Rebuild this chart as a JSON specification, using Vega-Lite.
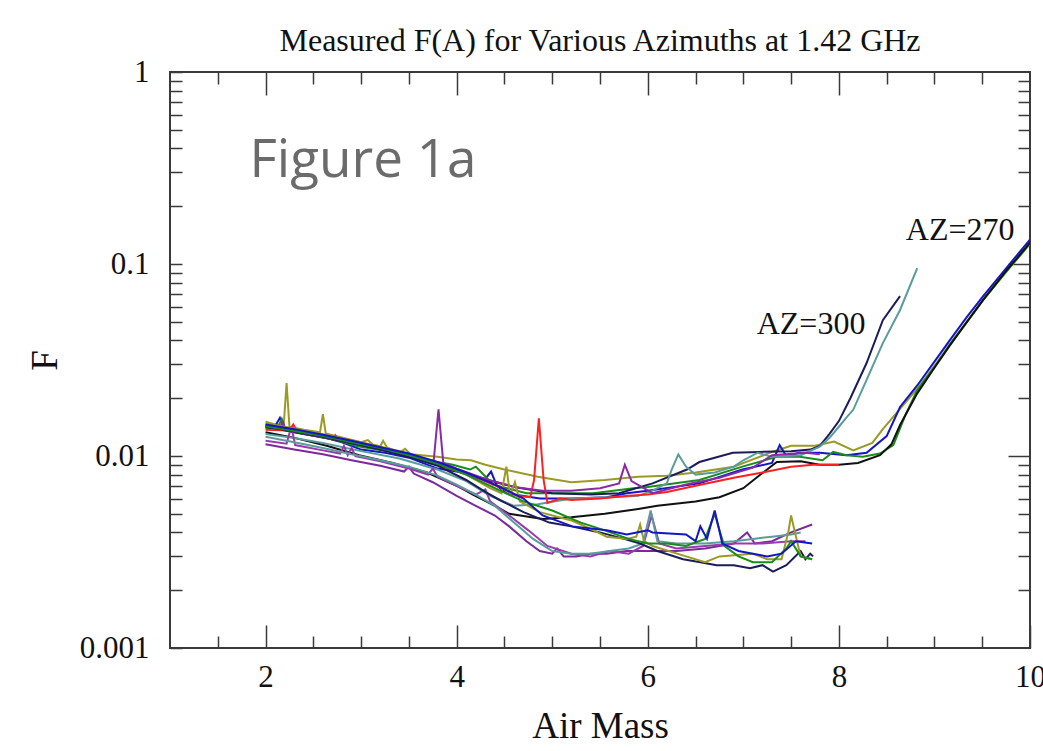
{
"$schema":"https://vega.github.io/schema/vega-lite/v6.json",
"width":860,"height":576,
"autosize":{"type":"none"},
"padding":{"left":170,"top":72,"right":13,"bottom":103},
"background":"white",
"config":{"view":{"stroke":"#3a3a3a","strokeWidth":2},"axis":{"domain":false,"grid":false,"tickColor":"#3a3a3a","tickWidth":1.5,"labelColor":"#111111","titleColor":"#111111","labelFont":"Liberation Serif","titleFont":"Liberation Serif","titleFontWeight":"normal"}},
"title":{"text":"Measured F(A) for Various Azimuths at 1.42 GHz","font":"Liberation Serif","fontSize":32,"fontWeight":"normal","color":"#111111","frame":"group","anchor":"middle","offset":-2},
"resolve":{"axis":{"x":"independent","y":"independent"}},
"layer":[
{
"data":{"values":[
{"s":"Uo","x":2.0,"y":0.0151},{"s":"Uo","x":2.1,"y":0.0146},{"s":"Uo","x":2.19,"y":0.0144},{"s":"Uo","x":2.22,"y":0.024},{"s":"Uo","x":2.25,"y":0.0142},{"s":"Uo","x":2.4,"y":0.0137},{"s":"Uo","x":2.57,"y":0.0133},{"s":"Uo","x":2.6,"y":0.0165},{"s":"Uo","x":2.63,"y":0.0131},{"s":"Uo","x":2.8,"y":0.0125},{"s":"Uo","x":3.0,"y":0.0118},{"s":"Uo","x":3.07,"y":0.0121},{"s":"Uo","x":3.12,"y":0.0115},{"s":"Uo","x":3.2,"y":0.0112},{"s":"Uo","x":3.23,"y":0.012},{"s":"Uo","x":3.27,"y":0.0111},{"s":"Uo","x":3.4,"y":0.0104},{"s":"Uo","x":3.46,"y":0.0109},{"s":"Uo","x":3.52,"y":0.0102},{"s":"Uo","x":3.8,"y":0.0099},{"s":"Uo","x":4.0,"y":0.0096},{"s":"Uo","x":4.15,"y":0.0095},{"s":"Uo","x":4.3,"y":0.009},{"s":"Uo","x":4.5,"y":0.0085},{"s":"Uo","x":4.85,"y":0.0078},{"s":"Uo","x":5.2,"y":0.0073},{"s":"Uo","x":5.55,"y":0.0075},{"s":"Uo","x":5.9,"y":0.0078},{"s":"Uo","x":6.2,"y":0.0079},{"s":"Uo","x":6.5,"y":0.0082},{"s":"Uo","x":6.9,"y":0.0088},{"s":"Uo","x":7.1,"y":0.0096},{"s":"Uo","x":7.3,"y":0.0105},{"s":"Uo","x":7.5,"y":0.0113},{"s":"Uo","x":7.75,"y":0.0113},{"s":"Uo","x":7.95,"y":0.0119},{"s":"Uo","x":8.15,"y":0.0107},{"s":"Uo","x":8.35,"y":0.0117},{"s":"Uo","x":8.46,"y":0.0138},{"s":"Uo","x":8.64,"y":0.0176},{"s":"Uo","x":8.82,"y":0.0224},{"s":"Uo","x":9.0,"y":0.0295},{"s":"Uo","x":9.16,"y":0.038},{"s":"Uo","x":9.34,"y":0.05},{"s":"Uo","x":9.51,"y":0.065},{"s":"Uo","x":9.75,"y":0.091},{"s":"Uo","x":10.0,"y":0.127},
{"s":"Ub","x":2.0,"y":0.0145},{"s":"Ub","x":2.1,"y":0.0143},{"s":"Ub","x":2.15,"y":0.0158},{"s":"Ub","x":2.19,"y":0.0139},{"s":"Ub","x":2.4,"y":0.0132},{"s":"Ub","x":2.6,"y":0.0126},{"s":"Ub","x":2.8,"y":0.0118},{"s":"Ub","x":3.0,"y":0.0108},{"s":"Ub","x":3.25,"y":0.0104},{"s":"Ub","x":3.5,"y":0.0098},{"s":"Ub","x":3.8,"y":0.0086},{"s":"Ub","x":4.0,"y":0.0083},{"s":"Ub","x":4.14,"y":0.008},{"s":"Ub","x":4.3,"y":0.0076},{"s":"Ub","x":4.36,"y":0.0083},{"s":"Ub","x":4.42,"y":0.007},{"s":"Ub","x":4.52,"y":0.0064},{"s":"Ub","x":4.87,"y":0.006},{"s":"Ub","x":5.21,"y":0.006},{"s":"Ub","x":5.57,"y":0.0061},{"s":"Ub","x":5.78,"y":0.0064},{"s":"Ub","x":6.0,"y":0.0066},{"s":"Ub","x":6.54,"y":0.0072},{"s":"Ub","x":6.99,"y":0.0085},{"s":"Ub","x":7.3,"y":0.0092},{"s":"Ub","x":7.38,"y":0.0114},{"s":"Ub","x":7.45,"y":0.01},{"s":"Ub","x":7.59,"y":0.0104},{"s":"Ub","x":7.8,"y":0.0104},{"s":"Ub","x":8.08,"y":0.0101},{"s":"Ub","x":8.29,"y":0.0104},{"s":"Ub","x":8.5,"y":0.0127},{"s":"Ub","x":8.64,"y":0.018},{"s":"Ub","x":8.82,"y":0.0233},{"s":"Ub","x":9.0,"y":0.031},{"s":"Ub","x":9.16,"y":0.04},{"s":"Ub","x":9.34,"y":0.053},{"s":"Ub","x":9.51,"y":0.068},{"s":"Ub","x":9.75,"y":0.095},{"s":"Ub","x":10.0,"y":0.134},
{"s":"Ug","x":2.0,"y":0.014},{"s":"Ug","x":2.12,"y":0.0138},{"s":"Ug","x":2.17,"y":0.0156},{"s":"Ug","x":2.21,"y":0.0136},{"s":"Ug","x":2.4,"y":0.013},{"s":"Ug","x":2.64,"y":0.0124},{"s":"Ug","x":2.98,"y":0.0112},{"s":"Ug","x":3.33,"y":0.0105},{"s":"Ug","x":3.69,"y":0.0095},{"s":"Ug","x":3.96,"y":0.009},{"s":"Ug","x":4.14,"y":0.0085},{"s":"Ug","x":4.2,"y":0.0088},{"s":"Ug","x":4.26,"y":0.0082},{"s":"Ug","x":4.38,"y":0.0071},{"s":"Ug","x":4.73,"y":0.0064},{"s":"Ug","x":5.08,"y":0.0064},{"s":"Ug","x":5.43,"y":0.0064},{"s":"Ug","x":5.85,"y":0.0068},{"s":"Ug","x":6.0,"y":0.0069},{"s":"Ug","x":6.54,"y":0.0075},{"s":"Ug","x":6.99,"y":0.0088},{"s":"Ug","x":7.35,"y":0.0099},{"s":"Ug","x":7.59,"y":0.0099},{"s":"Ug","x":7.83,"y":0.0095},{"s":"Ug","x":7.94,"y":0.0105},{"s":"Ug","x":8.08,"y":0.0101},{"s":"Ug","x":8.25,"y":0.0099},{"s":"Ug","x":8.43,"y":0.0103},{"s":"Ug","x":8.57,"y":0.0114},{"s":"Ug","x":8.7,"y":0.0165},{"s":"Ug","x":8.82,"y":0.022},{"s":"Ug","x":9.0,"y":0.029},{"s":"Ug","x":9.16,"y":0.038},{"s":"Ug","x":9.34,"y":0.05},{"s":"Ug","x":9.51,"y":0.065},{"s":"Ug","x":9.75,"y":0.091},{"s":"Ug","x":10.0,"y":0.128},
{"s":"Uk","x":2.0,"y":0.0133},{"s":"Uk","x":2.28,"y":0.0125},{"s":"Uk","x":2.64,"y":0.0113},{"s":"Uk","x":2.98,"y":0.0101},{"s":"Uk","x":3.33,"y":0.0092},{"s":"Uk","x":3.69,"y":0.0082},{"s":"Uk","x":4.0,"y":0.007},{"s":"Uk","x":4.17,"y":0.0063},{"s":"Uk","x":4.4,"y":0.0055},{"s":"Uk","x":4.55,"y":0.005},{"s":"Uk","x":4.9,"y":0.0047},{"s":"Uk","x":5.2,"y":0.0048},{"s":"Uk","x":5.55,"y":0.005},{"s":"Uk","x":5.9,"y":0.0053},{"s":"Uk","x":6.1,"y":0.0055},{"s":"Uk","x":6.5,"y":0.0058},{"s":"Uk","x":6.75,"y":0.0061},{"s":"Uk","x":7.0,"y":0.0068},{"s":"Uk","x":7.15,"y":0.0078},{"s":"Uk","x":7.35,"y":0.0093},{"s":"Uk","x":7.6,"y":0.0094},{"s":"Uk","x":7.8,"y":0.009},{"s":"Uk","x":8.0,"y":0.009},{"s":"Uk","x":8.2,"y":0.0092},{"s":"Uk","x":8.43,"y":0.0101},{"s":"Uk","x":8.55,"y":0.0115},{"s":"Uk","x":8.64,"y":0.0145},{"s":"Uk","x":8.82,"y":0.0212},{"s":"Uk","x":9.0,"y":0.0288},{"s":"Uk","x":9.16,"y":0.0376},{"s":"Uk","x":9.34,"y":0.05},{"s":"Uk","x":9.51,"y":0.065},{"s":"Uk","x":9.75,"y":0.092},{"s":"Uk","x":10.0,"y":0.129},
{"s":"Un","x":2.0,"y":0.0142},{"s":"Un","x":2.3,"y":0.0133},{"s":"Un","x":2.6,"y":0.0125},{"s":"Un","x":3.0,"y":0.0114},{"s":"Un","x":3.4,"y":0.0103},{"s":"Un","x":3.8,"y":0.009},{"s":"Un","x":4.2,"y":0.0078},{"s":"Un","x":4.6,"y":0.0069},{"s":"Un","x":5.0,"y":0.0064},{"s":"Un","x":5.4,"y":0.0063},{"s":"Un","x":5.7,"y":0.0064},{"s":"Un","x":6.05,"y":0.0072},{"s":"Un","x":6.41,"y":0.0085},{"s":"Un","x":6.54,"y":0.0093},{"s":"Un","x":6.89,"y":0.0104},{"s":"Un","x":7.17,"y":0.0105},{"s":"Un","x":7.5,"y":0.0106},{"s":"Un","x":7.7,"y":0.0108},{"s":"Un","x":7.8,"y":0.0113},{"s":"Un","x":7.9,"y":0.013},{"s":"Un","x":8.0,"y":0.0152},{"s":"Un","x":8.12,"y":0.02},{"s":"Un","x":8.29,"y":0.0305},{"s":"Un","x":8.46,"y":0.051},{"s":"Un","x":8.64,"y":0.068},
{"s":"Ut","x":2.0,"y":0.013},{"s":"Ut","x":2.3,"y":0.0124},{"s":"Ut","x":2.6,"y":0.0117},{"s":"Ut","x":3.0,"y":0.0106},{"s":"Ut","x":3.4,"y":0.0097},{"s":"Ut","x":3.8,"y":0.0085},{"s":"Ut","x":4.1,"y":0.0074},{"s":"Ut","x":4.35,"y":0.0062},{"s":"Ut","x":4.6,"y":0.0055},{"s":"Ut","x":4.85,"y":0.0056},{"s":"Ut","x":5.2,"y":0.006},{"s":"Ut","x":5.6,"y":0.0061},{"s":"Ut","x":5.9,"y":0.0062},{"s":"Ut","x":6.05,"y":0.0066},{"s":"Ut","x":6.2,"y":0.0072},{"s":"Ut","x":6.25,"y":0.0085},{"s":"Ut","x":6.32,"y":0.0102},{"s":"Ut","x":6.4,"y":0.0088},{"s":"Ut","x":6.5,"y":0.008},{"s":"Ut","x":6.7,"y":0.0082},{"s":"Ut","x":6.9,"y":0.0088},{"s":"Ut","x":7.0,"y":0.0095},{"s":"Ut","x":7.15,"y":0.0104},{"s":"Ut","x":7.3,"y":0.0099},{"s":"Ut","x":7.6,"y":0.0101},{"s":"Ut","x":7.8,"y":0.0112},{"s":"Ut","x":7.9,"y":0.0124},{"s":"Ut","x":8.0,"y":0.0142},{"s":"Ut","x":8.08,"y":0.0159},{"s":"Ut","x":8.15,"y":0.0174},{"s":"Ut","x":8.29,"y":0.0249},{"s":"Ut","x":8.46,"y":0.0387},{"s":"Ut","x":8.64,"y":0.0576},{"s":"Ut","x":8.82,"y":0.0953},
{"s":"Ur","x":2.0,"y":0.0137},{"s":"Ur","x":2.25,"y":0.0136},{"s":"Ur","x":2.29,"y":0.0146},{"s":"Ur","x":2.33,"y":0.0134},{"s":"Ur","x":2.5,"y":0.013},{"s":"Ur","x":2.7,"y":0.0122},{"s":"Ur","x":2.73,"y":0.0128},{"s":"Ur","x":2.76,"y":0.0121},{"s":"Ur","x":3.0,"y":0.0116},{"s":"Ur","x":3.23,"y":0.0108},{"s":"Ur","x":3.58,"y":0.0099},{"s":"Ur","x":3.93,"y":0.0086},{"s":"Ur","x":4.27,"y":0.0075},{"s":"Ur","x":4.5,"y":0.0067},{"s":"Ur","x":4.63,"y":0.0062},{"s":"Ur","x":4.77,"y":0.0061},{"s":"Ur","x":4.81,"y":0.0075},{"s":"Ur","x":4.86,"y":0.0157},{"s":"Ur","x":4.91,"y":0.0075},{"s":"Ur","x":4.95,"y":0.0057},{"s":"Ur","x":5.08,"y":0.006},{"s":"Ur","x":5.2,"y":0.0059},{"s":"Ur","x":5.5,"y":0.006},{"s":"Ur","x":5.8,"y":0.0062},{"s":"Ur","x":6.0,"y":0.0063},{"s":"Ur","x":6.2,"y":0.0065},{"s":"Ur","x":6.5,"y":0.007},{"s":"Ur","x":6.9,"y":0.0077},{"s":"Ur","x":7.2,"y":0.0082},{"s":"Ur","x":7.5,"y":0.0088},{"s":"Ur","x":7.73,"y":0.009},{"s":"Ur","x":8.0,"y":0.009},
{"s":"Up","x":2.0,"y":0.0143},{"s":"Up","x":2.15,"y":0.0139},{"s":"Up","x":2.18,"y":0.015},{"s":"Up","x":2.21,"y":0.0137},{"s":"Up","x":2.5,"y":0.0128},{"s":"Up","x":2.8,"y":0.012},{"s":"Up","x":3.1,"y":0.0112},{"s":"Up","x":3.4,"y":0.0104},{"s":"Up","x":3.7,"y":0.0094},{"s":"Up","x":3.76,"y":0.0095},{"s":"Up","x":3.81,"y":0.0175},{"s":"Up","x":3.86,"y":0.0092},{"s":"Up","x":4.0,"y":0.0086},{"s":"Up","x":4.3,"y":0.0076},{"s":"Up","x":4.6,"y":0.0069},{"s":"Up","x":4.9,"y":0.0066},{"s":"Up","x":5.2,"y":0.0066},{"s":"Up","x":5.5,"y":0.0068},{"s":"Up","x":5.7,"y":0.0072},{"s":"Up","x":5.76,"y":0.009},{"s":"Up","x":5.83,"y":0.0074},{"s":"Up","x":6.05,"y":0.0064},{"s":"Up","x":6.4,"y":0.0071},{"s":"Up","x":6.75,"y":0.0077},{"s":"Up","x":7.1,"y":0.0087},{"s":"Up","x":7.3,"y":0.0101},{"s":"Up","x":7.65,"y":0.0104},{"s":"Up","x":7.8,"y":0.0102},
{"s":"Lp1","x":2.0,"y":0.0115},{"s":"Lp1","x":2.3,"y":0.0108},{"s":"Lp1","x":2.6,"y":0.0102},{"s":"Lp1","x":2.9,"y":0.0095},{"s":"Lp1","x":3.2,"y":0.0089},{"s":"Lp1","x":3.45,"y":0.0083},{"s":"Lp1","x":3.5,"y":0.0088},{"s":"Lp1","x":3.55,"y":0.0081},{"s":"Lp1","x":3.75,"y":0.0073},{"s":"Lp1","x":4.0,"y":0.0062},{"s":"Lp1","x":4.2,"y":0.0055},{"s":"Lp1","x":4.4,"y":0.0049},{"s":"Lp1","x":4.55,"y":0.0043},{"s":"Lp1","x":4.73,"y":0.0036},{"s":"Lp1","x":4.87,"y":0.0032},{"s":"Lp1","x":5.0,"y":0.0031},{"s":"Lp1","x":5.05,"y":0.0033},{"s":"Lp1","x":5.12,"y":0.003},{"s":"Lp1","x":5.25,"y":0.003},{"s":"Lp1","x":5.4,"y":0.0031},{"s":"Lp1","x":5.57,"y":0.0031},{"s":"Lp1","x":5.78,"y":0.0032},{"s":"Lp1","x":6.0,"y":0.0032},{"s":"Lp1","x":6.3,"y":0.0032},{"s":"Lp1","x":6.6,"y":0.0033},{"s":"Lp1","x":6.9,"y":0.0035},{"s":"Lp1","x":7.04,"y":0.004},{"s":"Lp1","x":7.12,"y":0.0035},{"s":"Lp1","x":7.3,"y":0.0036},{"s":"Lp1","x":7.5,"y":0.004},{"s":"Lp1","x":7.72,"y":0.0044},
{"s":"Lp2","x":2.0,"y":0.012},{"s":"Lp2","x":2.22,"y":0.0116},{"s":"Lp2","x":2.27,"y":0.0142},{"s":"Lp2","x":2.31,"y":0.0114},{"s":"Lp2","x":2.6,"y":0.0107},{"s":"Lp2","x":2.78,"y":0.0103},{"s":"Lp2","x":2.82,"y":0.0113},{"s":"Lp2","x":2.86,"y":0.0101},{"s":"Lp2","x":2.9,"y":0.011},{"s":"Lp2","x":2.94,"y":0.01},{"s":"Lp2","x":3.2,"y":0.0094},{"s":"Lp2","x":3.5,"y":0.0086},{"s":"Lp2","x":3.7,"y":0.008},{"s":"Lp2","x":3.75,"y":0.0086},{"s":"Lp2","x":3.8,"y":0.0078},{"s":"Lp2","x":4.0,"y":0.007},{"s":"Lp2","x":4.2,"y":0.0063},{"s":"Lp2","x":4.3,"y":0.0067},{"s":"Lp2","x":4.35,"y":0.0058},{"s":"Lp2","x":4.55,"y":0.0049},{"s":"Lp2","x":4.75,"y":0.0041},{"s":"Lp2","x":4.95,"y":0.0034},{"s":"Lp2","x":5.2,"y":0.0031},{"s":"Lp2","x":5.4,"y":0.003},{"s":"Lp2","x":5.6,"y":0.0032},{"s":"Lp2","x":5.8,"y":0.0031},{"s":"Lp2","x":5.95,"y":0.0034},{"s":"Lp2","x":6.04,"y":0.0049},{"s":"Lp2","x":6.12,"y":0.0035},{"s":"Lp2","x":6.3,"y":0.0033},{"s":"Lp2","x":6.6,"y":0.0034},{"s":"Lp2","x":6.9,"y":0.0035},{"s":"Lp2","x":7.2,"y":0.0035},{"s":"Lp2","x":7.5,"y":0.0036},{"s":"Lp2","x":7.65,"y":0.0036},
{"s":"Lt","x":2.0,"y":0.0126},{"s":"Lt","x":2.3,"y":0.0118},{"s":"Lt","x":2.6,"y":0.011},{"s":"Lt","x":2.9,"y":0.0102},{"s":"Lt","x":3.2,"y":0.0095},{"s":"Lt","x":3.5,"y":0.0088},{"s":"Lt","x":3.8,"y":0.0079},{"s":"Lt","x":4.0,"y":0.0071},{"s":"Lt","x":4.2,"y":0.0063},{"s":"Lt","x":4.4,"y":0.0055},{"s":"Lt","x":4.6,"y":0.0045},{"s":"Lt","x":4.8,"y":0.0037},{"s":"Lt","x":5.0,"y":0.0032},{"s":"Lt","x":5.2,"y":0.0031},{"s":"Lt","x":5.4,"y":0.0031},{"s":"Lt","x":5.6,"y":0.0032},{"s":"Lt","x":5.8,"y":0.0033},{"s":"Lt","x":5.95,"y":0.0035},{"s":"Lt","x":6.03,"y":0.0052},{"s":"Lt","x":6.1,"y":0.0036},{"s":"Lt","x":6.3,"y":0.0035},{"s":"Lt","x":6.6,"y":0.0035},{"s":"Lt","x":6.9,"y":0.0036},{"s":"Lt","x":7.1,"y":0.0037},{"s":"Lt","x":7.3,"y":0.0038},{"s":"Lt","x":7.5,"y":0.0039},{"s":"Lt","x":7.6,"y":0.004},
{"s":"Ln","x":2.0,"y":0.0142},{"s":"Ln","x":2.3,"y":0.0134},{"s":"Ln","x":2.6,"y":0.0126},{"s":"Ln","x":2.9,"y":0.0117},{"s":"Ln","x":3.2,"y":0.0108},{"s":"Ln","x":3.5,"y":0.0099},{"s":"Ln","x":3.8,"y":0.0089},{"s":"Ln","x":4.1,"y":0.0075},{"s":"Ln","x":4.3,"y":0.0065},{"s":"Ln","x":4.45,"y":0.0059},{"s":"Ln","x":4.7,"y":0.0051},{"s":"Ln","x":4.97,"y":0.0045},{"s":"Ln","x":5.2,"y":0.0043},{"s":"Ln","x":5.5,"y":0.004},{"s":"Ln","x":5.75,"y":0.0037},{"s":"Ln","x":5.92,"y":0.0035},{"s":"Ln","x":6.1,"y":0.0032},{"s":"Ln","x":6.37,"y":0.0029},{"s":"Ln","x":6.55,"y":0.0028},{"s":"Ln","x":6.72,"y":0.0027},{"s":"Ln","x":6.9,"y":0.0027},{"s":"Ln","x":7.07,"y":0.0026},{"s":"Ln","x":7.2,"y":0.0027},{"s":"Ln","x":7.31,"y":0.0025},{"s":"Ln","x":7.45,"y":0.0027},{"s":"Ln","x":7.6,"y":0.0032},{"s":"Ln","x":7.65,"y":0.0029},{"s":"Ln","x":7.7,"y":0.0031},{"s":"Ln","x":7.73,"y":0.003},
{"s":"Lo","x":2.0,"y":0.0148},{"s":"Lo","x":2.3,"y":0.0139},{"s":"Lo","x":2.6,"y":0.013},{"s":"Lo","x":2.9,"y":0.0121},{"s":"Lo","x":3.2,"y":0.0112},{"s":"Lo","x":3.5,"y":0.0103},{"s":"Lo","x":3.8,"y":0.0092},{"s":"Lo","x":4.1,"y":0.008},{"s":"Lo","x":4.35,"y":0.0068},{"s":"Lo","x":4.47,"y":0.0064},{"s":"Lo","x":4.52,"y":0.0088},{"s":"Lo","x":4.56,"y":0.0062},{"s":"Lo","x":4.61,"y":0.0073},{"s":"Lo","x":4.66,"y":0.0058},{"s":"Lo","x":4.87,"y":0.0051},{"s":"Lo","x":5.21,"y":0.0046},{"s":"Lo","x":5.39,"y":0.0042},{"s":"Lo","x":5.57,"y":0.0038},{"s":"Lo","x":5.78,"y":0.0037},{"s":"Lo","x":5.88,"y":0.0038},{"s":"Lo","x":5.92,"y":0.0044},{"s":"Lo","x":5.96,"y":0.0036},{"s":"Lo","x":6.05,"y":0.0034},{"s":"Lo","x":6.4,"y":0.003},{"s":"Lo","x":6.6,"y":0.0028},{"s":"Lo","x":6.75,"y":0.003},{"s":"Lo","x":7.1,"y":0.0031},{"s":"Lo","x":7.25,"y":0.0029},{"s":"Lo","x":7.4,"y":0.0029},{"s":"Lo","x":7.47,"y":0.004},{"s":"Lo","x":7.5,"y":0.0049},{"s":"Lo","x":7.54,"y":0.004},{"s":"Lo","x":7.6,"y":0.003},{"s":"Lo","x":7.72,"y":0.0029},
{"s":"Lg","x":2.0,"y":0.0143},{"s":"Lg","x":2.3,"y":0.0135},{"s":"Lg","x":2.6,"y":0.0127},{"s":"Lg","x":2.9,"y":0.0118},{"s":"Lg","x":3.2,"y":0.011},{"s":"Lg","x":3.5,"y":0.0101},{"s":"Lg","x":3.8,"y":0.0091},{"s":"Lg","x":4.1,"y":0.008},{"s":"Lg","x":4.4,"y":0.0068},{"s":"Lg","x":4.7,"y":0.0058},{"s":"Lg","x":5.0,"y":0.0052},{"s":"Lg","x":5.3,"y":0.0045},{"s":"Lg","x":5.55,"y":0.0041},{"s":"Lg","x":5.8,"y":0.0037},{"s":"Lg","x":6.0,"y":0.0035},{"s":"Lg","x":6.2,"y":0.0035},{"s":"Lg","x":6.4,"y":0.0034},{"s":"Lg","x":6.6,"y":0.0037},{"s":"Lg","x":6.7,"y":0.005},{"s":"Lg","x":6.8,"y":0.0034},{"s":"Lg","x":6.95,"y":0.003},{"s":"Lg","x":7.1,"y":0.0028},{"s":"Lg","x":7.3,"y":0.0028},{"s":"Lg","x":7.45,"y":0.0033},{"s":"Lg","x":7.5,"y":0.0036},{"s":"Lg","x":7.6,"y":0.003},{"s":"Lg","x":7.72,"y":0.0029},
{"s":"Lb","x":2.0,"y":0.0146},{"s":"Lb","x":2.3,"y":0.0138},{"s":"Lb","x":2.6,"y":0.0129},{"s":"Lb","x":2.9,"y":0.012},{"s":"Lb","x":3.2,"y":0.0111},{"s":"Lb","x":3.5,"y":0.0103},{"s":"Lb","x":3.8,"y":0.0093},{"s":"Lb","x":4.1,"y":0.0082},{"s":"Lb","x":4.4,"y":0.0071},{"s":"Lb","x":4.7,"y":0.006},{"s":"Lb","x":4.9,"y":0.0049},{"s":"Lb","x":5.21,"y":0.0043},{"s":"Lb","x":5.57,"y":0.0041},{"s":"Lb","x":5.78,"y":0.0039},{"s":"Lb","x":6.0,"y":0.0041},{"s":"Lb","x":6.05,"y":0.004},{"s":"Lb","x":6.4,"y":0.0039},{"s":"Lb","x":6.5,"y":0.0036},{"s":"Lb","x":6.55,"y":0.0043},{"s":"Lb","x":6.62,"y":0.0037},{"s":"Lb","x":6.7,"y":0.0052},{"s":"Lb","x":6.78,"y":0.0035},{"s":"Lb","x":6.95,"y":0.0032},{"s":"Lb","x":7.1,"y":0.0031},{"s":"Lb","x":7.25,"y":0.003},{"s":"Lb","x":7.4,"y":0.0031},{"s":"Lb","x":7.55,"y":0.0036},{"s":"Lb","x":7.72,"y":0.0035}
]},
"mark":{"type":"line","strokeWidth":2,"clip":true},
"encoding":{
"x":{"field":"x","type":"quantitative","scale":{"domain":[1,10],"nice":false,"zero":false},"axis":{"orient":"bottom","values":[2,4,6,8,10],"format":"d","tickSize":-23,"labelFontSize":31,"labelPadding":37,"labelFlush":false,"labelOverlap":false,"title":"Air Mass","titleFontSize":37,"titlePadding":16}},
"y":{"field":"y","type":"quantitative","scale":{"type":"log","domain":[0.001,1],"nice":false},"axis":{"orient":"left","values":[0.001,0.01,0.1,1],"format":"~g","tickSize":-12,"labelFontSize":31,"labelPadding":33,"labelFlush":false,"labelOverlap":false,"title":"F","titleFontSize":37,"titlePadding":15}},
"color":{"field":"s","type":"nominal","legend":null,"scale":{"domain":["Uo","Ub","Ug","Uk","Un","Ut","Ur","Up","Lp1","Lp2","Lt","Ln","Lo","Lg","Lb"],"range":["#9a9a24","#1414c8","#1a8c1a","#111111","#1c1c5c","#5a9c9c","#ff2020","#8a2aa8","#7a2a9a","#9a3aae","#5a9c9c","#1c1c5c","#9a9a24","#1a8c1a","#1414c8"]}}
}
},
{
"data":{"values":[{"x":1,"y":0.001}]},
"mark":{"type":"point","opacity":0},
"encoding":{
"x":{"field":"x","type":"quantitative","axis":{"orient":"bottom","values":[1.5,2.5,3,3.5,4.5,5,5.5,6.5,7,7.5,8.5,9,9.5],"tickSize":-12,"labels":false,"title":null}},
"y":{"field":"y","type":"quantitative","axis":{"orient":"left","values":[0.002,0.003,0.004,0.005,0.006,0.007,0.008,0.009,0.02,0.03,0.04,0.05,0.06,0.07,0.08,0.09,0.2,0.3,0.4,0.5,0.6,0.7,0.8,0.9],"tickSize":-12,"labels":false,"title":null}}
}
},
{
"data":{"values":[{"x":1,"y":0.001}]},
"mark":{"type":"point","opacity":0},
"encoding":{
"x":{"field":"x","type":"quantitative","axis":{"orient":"top","values":[2,4,6,8],"tickSize":-23,"labels":false,"title":null}},
"y":{"field":"y","type":"quantitative","axis":{"orient":"right","values":[0.01,0.1],"tickSize":-22,"labels":false,"title":null}}
}
},
{
"data":{"values":[{"x":1,"y":0.001}]},
"mark":{"type":"point","opacity":0},
"encoding":{
"x":{"field":"x","type":"quantitative","axis":{"orient":"top","values":[1.5,2.5,3,3.5,4.5,5,5.5,6.5,7,7.5,8.5,9,9.5],"tickSize":-12,"labels":false,"title":null}},
"y":{"field":"y","type":"quantitative","axis":{"orient":"right","values":[0.002,0.003,0.004,0.005,0.006,0.007,0.008,0.009,0.02,0.03,0.04,0.05,0.06,0.07,0.08,0.09,0.2,0.3,0.4,0.5,0.6,0.7,0.8,0.9],"tickSize":-12,"labels":false,"title":null}}
}
},
{
"data":{"values":[{"x":1.832,"y":0.284,"t":"Figure 1a"}]},
"mark":{"type":"text","align":"left","baseline":"alphabetic","font":"Open Sans","fontSize":53,"color":"#6b6b6b"},
"encoding":{
"x":{"field":"x","type":"quantitative","axis":null},
"y":{"field":"y","type":"quantitative","axis":null},
"text":{"field":"t"}
}
},
{
"data":{"values":[{"x":8.7,"y":0.1334,"t":"AZ=270"},{"x":7.14,"y":0.0432,"t":"AZ=300"}]},
"mark":{"type":"text","align":"left","baseline":"alphabetic","font":"Liberation Serif","fontSize":32,"color":"#111111"},
"encoding":{
"x":{"field":"x","type":"quantitative","axis":null},
"y":{"field":"y","type":"quantitative","axis":null},
"text":{"field":"t"}
}
}
]
}
